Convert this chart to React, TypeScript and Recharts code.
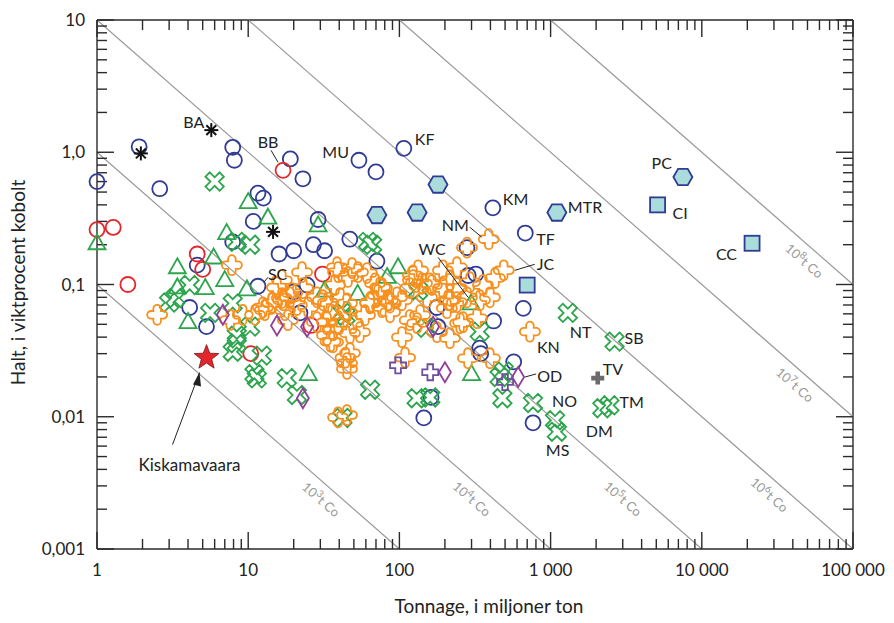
import React from "react";
import { ScatterChart, Scatter, XAxis, YAxis, ReferenceLine } from "recharts";

// Tonnage (Mt) vs Co grade (%)
const blueCircles = [
  [1.0, 0.6], [1.9, 1.1], [2.6, 0.53], [7.9, 1.09], [8.1, 0.87], [11.6, 0.49], [12.6, 0.45],
  [10.8, 0.3], [19, 0.89], [23, 0.63], [29, 0.31], [54, 0.87], [70, 0.71], [107, 1.07],
  [415, 0.38], [680, 0.245], [280, 0.19], [320, 0.12], [660, 0.066], [420, 0.053], [340, 0.033],
  [345, 0.03], [570, 0.026], [765, 0.009], [162, 0.014], [145, 0.0098], [11.6, 0.097], [7.9, 0.21],
  [16, 0.17], [20, 0.18], [27, 0.2], [32, 0.18], [47, 0.22], [71, 0.15], [24.5, 0.099], [20, 0.088],
  [22, 0.061], [177, 0.067], [180, 0.048], [285, 0.117], [4.6, 0.14], [4.1, 0.067], [5.3, 0.048],
];
const redCircles = [
  [17, 0.73], [1.0, 0.26], [1.28, 0.27], [1.6, 0.1], [4.6, 0.17], [5, 0.13], [31, 0.12], [26, 0.049], [10.4, 0.03],
];
const greenTriangles = [
  [1, 0.205], [10, 0.42], [13.5, 0.32], [29, 0.28], [7.2, 0.245], [3.4, 0.135], [3.4, 0.095], [5.2, 0.094],
  [5.9, 0.16], [7, 0.108], [9.8, 0.092], [4, 0.052], [98, 0.135], [83, 0.114], [32, 0.09], [53, 0.085],
  [298, 0.072], [300, 0.021], [25, 0.021],
];
const greenCrosses = [
  [6, 0.6], [62, 0.21], [66, 0.2], [10.3, 0.2], [8.4, 0.21], [4.1, 0.099], [3.0, 0.073], [3.3, 0.079],
  [7.9, 0.072], [5.6, 0.061], [10.3, 0.048], [8.4, 0.041], [7.9, 0.031], [8.4, 0.036], [12.3, 0.029],
  [11, 0.021], [11.4, 0.0195], [18, 0.0196], [21, 0.0146], [64, 0.016], [42, 0.0098], [130, 0.0138],
  [160, 0.014], [1300, 0.061], [2650, 0.037], [340, 0.044], [460, 0.02], [490, 0.022], [480, 0.0138],
  [765, 0.0127], [1070, 0.0094], [1100, 0.0077], [2200, 0.0116], [2450, 0.0122], [150, 0.047],
  [133, 0.09], [42, 0.061], [44, 0.058],
];
const orangeCrosses = [
  [2.5, 0.059], [7.8, 0.14], [7.6, 0.054], [9.2, 0.059], [12.5, 0.067], [17, 0.076], [22.7, 0.124],
  [23, 0.094], [19.5, 0.086], [16.7, 0.079], [14.4, 0.073], [12.9, 0.064], [11.1, 0.059], [17.5, 0.064],
  [21, 0.07], [24.9, 0.067], [28.5, 0.08], [33.7, 0.073], [39.3, 0.124], [37.5, 0.099], [40.5, 0.079],
  [45, 0.062], [35.8, 0.059], [39.3, 0.051], [49.3, 0.051], [54.8, 0.0436], [33.2, 0.0414], [36.4, 0.0366],
  [47.1, 0.0428], [59.2, 0.0586], [64, 0.0735], [76.7, 0.0674], [72, 0.083], [61, 0.122], [69, 0.102],
  [48.6, 0.133], [47.1, 0.0303], [45, 0.0254], [33.2, 0.0519], [28.5, 0.0519], [96.4, 0.08], [86.7, 0.0617],
  [109, 0.028], [76.7, 0.094], [86.7, 0.073], [123, 0.117], [117.5, 0.094], [141, 0.102], [164, 0.099],
  [194, 0.094], [216, 0.108], [240, 0.094], [293, 0.104], [357, 0.099], [429, 0.112], [397, 0.08],
  [341, 0.076], [240, 0.0735], [206, 0.0662], [137, 0.0586], [131, 0.051], [177, 0.0436], [216, 0.0393],
  [264, 0.0519], [326, 0.0556], [284, 0.0277], [397, 0.0277], [210, 0.076], [152, 0.08], [39.3, 0.0099],
  [45, 0.0103], [44, 0.028], [45, 0.023], [35, 0.037], [730, 0.044], [390, 0.22], [490, 0.128], [280, 0.19],
  [38.7, 0.135], [45.7, 0.114], [53.2, 0.124], [45, 0.072], [64, 0.072], [74.5, 0.0954], [84, 0.076],
  [104, 0.076], [123, 0.108], [133, 0.128], [159, 0.102], [194, 0.128], [240, 0.135], [216, 0.076],
  [280, 0.08], [252, 0.051], [117, 0.0537], [104, 0.04], [31.2, 0.076], [36.4, 0.045], [18.9, 0.08],
  [15.5, 0.095], [14.4, 0.072], [18.3, 0.0537], [16.7, 0.108],
];
const purpleDiamonds = [
  [6.8, 0.059], [15.5, 0.049], [23, 0.0138], [200, 0.0217], [610, 0.02], [167, 0.048], [24.5, 0.048],
];
const purplePlus = [[98, 0.0245], [160, 0.0217], [500, 0.0183]];
const hexagons = [[180, 0.57], [71, 0.335], [131, 0.35], [1100, 0.35], [7500, 0.65]];
const squares = [[700, 0.099], [5100, 0.4], [21500, 0.205]];
const asterisks = [[5.7, 1.47], [1.95, 0.98], [14.6, 0.25]];
const kiskamavaara = [[5.3, 0.028]];
const greyPlus = [[2050, 0.0196]];

const depositNames = [
  ["BA", 5.7, 1.47], ["BB", 17, 0.73], ["MU", 54, 0.87], ["KF", 107, 1.07], ["PC", 7500, 0.65],
  ["CI", 5100, 0.4], ["CC", 21500, 0.205], ["KM", 415, 0.38], ["MTR", 1100, 0.35], ["TF", 680, 0.245],
  ["NM", 390, 0.22], ["JC", 490, 0.128], ["WC", 298, 0.072], ["SC", 11.6, 0.097], ["NT", 1300, 0.061],
  ["SB", 2650, 0.037], ["KN", 730, 0.044], ["OD", 610, 0.02], ["TV", 2050, 0.0196], ["NO", 1070, 0.0094],
  ["MS", 1100, 0.0077], ["TM", 2450, 0.0122], ["DM", 2200, 0.0116], ["Kiskamavaara", 5.3, 0.028],
];

// contained cobalt lines, tonnes Co = 10^exp
const lineExps = [3, 4, 5, 6, 7, 8];

const xMajor = [1, 10, 100, 1000, 10000, 100000];
const xMajorLabels = ["1", "10", "100", "1 000", "10 000", "100 000"];
const yMajor = [0.001, 0.01, 0.1, 1, 10];
const yMajorLabels = ["0,001", "0,01", "0,1", "1,0", "10"];

// ---- layout / styling ----
const FONT = "Lato, 'Open Sans', sans-serif";
const BLUE = "#2f3b94";
const RED = "#e3262b";
const GREEN = "#2ca54c";
const ORANGE = "#f7901e";
const PURPLE = "#913f99";
const VIOLET = "#6d4e9f";
const CYAN = "#a9dcda";
const AXIS = "#2a2a2a";
const X_MIN = 1, X_MAX = 100000, Y_MIN = 0.001, Y_MAX = 10;

const minorsOf = (majors: number[]) => {
  const out: number[] = [];
  majors.slice(0, -1).forEach((m) => {
    for (let k = 2; k <= 9; k++) out.push(m * k);
  });
  return out;
};
const xLabel = (v: number) => xMajorLabels[xMajor.findIndex((m) => Math.abs(m - v) < 1e-9 * m)] ?? "";
const yLabel = (v: number) => yMajorLabels[yMajor.findIndex((m) => Math.abs(m - v) < 1e-9 * m)] ?? "";

// inward tick marks on all four sides of the frame
const tickMarks = [
  ...xMajor.map((x) => ({ x, y: Y_MIN, side: "b", major: true })),
  ...minorsOf(xMajor).map((x) => ({ x, y: Y_MIN, side: "b", major: false })),
  ...xMajor.map((x) => ({ x, y: Y_MAX, side: "t", major: true })),
  ...minorsOf(xMajor).map((x) => ({ x, y: Y_MAX, side: "t", major: false })),
  ...yMajor.map((y) => ({ x: X_MIN, y, side: "l", major: true })),
  ...minorsOf(yMajor).map((y) => ({ x: X_MIN, y, side: "l", major: false })),
  ...yMajor.map((y) => ({ x: X_MAX, y, side: "r", major: true })),
  ...minorsOf(yMajor).map((y) => ({ x: X_MAX, y, side: "r", major: false })),
];

const toPts = (arr: number[][]) => arr.map(([x, y]) => ({ x, y }));

const lineSegment = (exp: number) => {
  const p = Math.pow(10, exp) / 1e4; // tonnage * grade
  const y0 = Math.min(Y_MAX, p / X_MIN);
  const x1 = Math.min(X_MAX, p / Y_MIN);
  return [{ x: p / y0, y: y0 }, { x: x1, y: p / x1 }];
};
const LINE_LABEL_AT = [35, 347, 3470, 32300, 47600, 55000];
const lineLabels = lineExps.map((e, i) => {
  const p = Math.pow(10, e) / 1e4;
  return { x: LINE_LABEL_AT[i], y: p / LINE_LABEL_AT[i], exp: e };
});

const LABEL_POS: Record<string, any> = {
  BA: { dx: -7, dy: -2, a: "end" },
  BB: { dx: -15, dy: -22, a: "middle", lead: [-12, -20, -5, -8] },
  MU: { dx: -10, dy: -2, a: "end" },
  KF: { dx: 11, dy: -3, a: "start" },
  PC: { dx: -11, dy: -8, a: "end" },
  CI: { dx: 15, dy: 14, a: "start" },
  CC: { dx: -15, dy: 17, a: "end" },
  KM: { dx: 10, dy: -3, a: "start" },
  MTR: { dx: 11, dy: 0, a: "start" },
  TF: { dx: 11, dy: 12, a: "start" },
  NM: { dx: -20, dy: -8, a: "end", lead: [-19, -12, -7, -2] },
  JC: { dx: 33, dy: 0, a: "start", lead: [11, 0, 31, -6] },
  WC: { dx: -39, dy: -48, a: "middle", lead: [-33, -46, -3, -6] },
  SC: { dx: 10, dy: -6, a: "start", lead: [6, -4, 10, -9] },
  NT: { dx: 2, dy: 25, a: "start" },
  SB: { dx: 10, dy: 2, a: "start" },
  KN: { dx: 7, dy: 21, a: "start" },
  OD: { dx: 19, dy: 5, a: "start", lead: [7, 0, 18, -3] },
  TV: { dx: 5, dy: -3, a: "start" },
  NO: { dx: -3, dy: -13, a: "start" },
  MS: { dx: -11, dy: 24, a: "start" },
  TM: { dx: 10, dy: 3, a: "start" },
  DM: { dx: -3, dy: 29, a: "middle" },
  Kiskamavaara: { dx: -17, dy: 113, a: "middle", size: 17, arrow: [-34, 87, -7, 15] },
};

const plusPts = (a: number, b: number) =>
  `${-a},${-b} ${a},${-b} ${a},${-a} ${b},${-a} ${b},${a} ${a},${a} ${a},${b} ${-a},${b} ${-a},${a} ${-b},${a} ${-b},${-a} ${-a},${-a}`;

const roundPlus = (a: number, b: number) => {
  const e = b - a;
  return `M${-a},${-a} L${-a},${-e} A${a},${a} 0 0 1 ${a},${-e} L${a},${-a} L${e},${-a} A${a},${a} 0 0 1 ${e},${a} L${a},${a} L${a},${e} A${a},${a} 0 0 1 ${-a},${e} L${-a},${a} L${-e},${a} A${a},${a} 0 0 1 ${-e},${-a} Z`;
};

const starPts = () => {
  const pts: string[] = [];
  for (let i = 0; i < 10; i++) {
    const r = i % 2 === 0 ? 13 : 5.5;
    const ang = -Math.PI / 2 + (i * Math.PI) / 5;
    pts.push(`${(r * Math.cos(ang)).toFixed(2)},${(r * Math.sin(ang)).toFixed(2)}`);
  }
  return pts.join(" ");
};

const BlueCircle = ({ cx, cy }: any) => <circle cx={cx} cy={cy} r={7.5} fill="none" stroke={BLUE} strokeWidth={1.8} />;
const RedCircle = ({ cx, cy }: any) => <circle cx={cx} cy={cy} r={7.5} fill="none" stroke={RED} strokeWidth={1.8} />;
const Triangle = ({ cx, cy }: any) => (
  <polygon points={`${cx},${cy - 9} ${cx + 8.5},${cy + 6} ${cx - 8.5},${cy + 6}`} fill="none" stroke={GREEN} strokeWidth={1.8} />
);
const GreenX = ({ cx, cy }: any) => (
  <polygon points={plusPts(3, 10)} transform={`translate(${cx},${cy}) rotate(45)`} fill="none" stroke={GREEN} strokeWidth={1.8} />
);
const OrangeCross = ({ cx, cy }: any) => (
  <path d={roundPlus(3.8, 10)} transform={`translate(${cx},${cy})`} fill="none" stroke={ORANGE} strokeWidth={1.8} />
);
const Diamond = ({ cx, cy }: any) => (
  <polygon points={`${cx},${cy - 10} ${cx + 6},${cy} ${cx},${cy + 10} ${cx - 6},${cy}`} fill="none" stroke={PURPLE} strokeWidth={1.8} />
);
const VioletPlus = ({ cx, cy }: any) => (
  <polygon points={plusPts(2.8, 8)} transform={`translate(${cx},${cy})`} fill="none" stroke={VIOLET} strokeWidth={1.8} />
);
const Hexagon = ({ cx, cy }: any) => (
  <polygon
    points={`${cx - 9.5},${cy} ${cx - 4.8},${cy - 8.2} ${cx + 4.8},${cy - 8.2} ${cx + 9.5},${cy} ${cx + 4.8},${cy + 8.2} ${cx - 4.8},${cy + 8.2}`}
    fill={CYAN} stroke={BLUE} strokeWidth={1.8}
  />
);
const Square = ({ cx, cy }: any) => <rect x={cx - 7.5} y={cy - 7.5} width={15} height={15} fill={CYAN} stroke={BLUE} strokeWidth={1.8} />;
const Asterisk = ({ cx, cy }: any) => (
  <g stroke="#111" strokeWidth={2}>
    {[0, 45, 90, 135].map((a) => (
      <line key={a} x1={cx - 7} y1={cy} x2={cx + 7} y2={cy} transform={`rotate(${a},${cx},${cy})`} />
    ))}
  </g>
);
const Star = ({ cx, cy }: any) => (
  <polygon points={starPts()} transform={`translate(${cx},${cy})`} fill={RED} stroke="#6b1d1d" strokeWidth={0.8} />
);
const GreyPlus = ({ cx, cy }: any) => <polygon points={plusPts(2.3, 6.5)} transform={`translate(${cx},${cy})`} fill="#6b6b6b" />;

const TickMark = ({ cx, cy, payload }: any) => {
  const len = payload.major ? 17 : 10;
  const d = { b: [0, -len], t: [0, len], l: [len, 0], r: [-len, 0] }[payload.side as "b"];
  return <line x1={cx} y1={cy} x2={cx + d[0]} y2={cy + d[1]} stroke={AXIS} strokeWidth={1.4} />;
};

const NameLabel = ({ cx, cy, payload }: any) => {
  const p = LABEL_POS[payload.name];
  return (
    <g>
      {p.lead && <line x1={cx + p.lead[0]} y1={cy + p.lead[1]} x2={cx + p.lead[2]} y2={cy + p.lead[3]} stroke="#222" strokeWidth={1} />}
      {p.arrow && (
        <g>
          <line x1={cx + p.arrow[0]} y1={cy + p.arrow[1]} x2={cx + p.arrow[2]} y2={cy + p.arrow[3]} stroke="#222" strokeWidth={1} />
          <polygon
            points={`${cx + p.arrow[2]},${cy + p.arrow[3]} ${cx + p.arrow[2] - 6.5},${cy + p.arrow[3] + 12} ${cx + p.arrow[2] + 1.5},${cy + p.arrow[3] + 14}`}
            fill="#222"
          />
        </g>
      )}
      <text x={cx + p.dx} y={cy + p.dy} textAnchor={p.a} fontSize={p.size || 16} fill="#222" fontFamily={FONT}>
        {payload.name}
      </text>
    </g>
  );
};

const LineLabel = ({ cx, cy, payload }: any) => (
  <text transform={`translate(${cx},${cy}) rotate(41.2)`} y={19} textAnchor="middle" fontSize={13} fill="#9a9a9a" fontFamily={FONT}>
    10<tspan dy={-5} fontSize={10}>{payload.exp}</tspan>
    <tspan dy={5}>t Co</tspan>
  </text>
);

const XTitle = ({ viewBox }: any) => (
  <text x={viewBox.x + viewBox.width / 2 + 14} y={viewBox.y + 64} textAnchor="middle" fontSize={19} fill="#222" fontFamily={FONT}>
    Tonnage, i miljoner ton
  </text>
);
const YTitle = ({ viewBox }: any) => {
  const x = viewBox.x - 71;
  const y = viewBox.y + viewBox.height / 2 - 2;
  return (
    <text x={x} y={y} transform={`rotate(-90,${x},${y})`} textAnchor="middle" fontSize={19} fill="#222" fontFamily={FONT}>
      Halt, i viktprocent kobolt
    </text>
  );
};

const series: [number[][], any][] = [
  [blueCircles, BlueCircle],
  [redCircles, RedCircle],
  [greenTriangles, Triangle],
  [greenCrosses, GreenX],
  [orangeCrosses, OrangeCross],
  [purpleDiamonds, Diamond],
  [purplePlus, VioletPlus],
  [hexagons, Hexagon],
  [squares, Square],
  [asterisks, Asterisk],
  [kiskamavaara, Star],
  [greyPlus, GreyPlus],
];

const tickFont = { fontSize: 17, fill: "#222", fontFamily: FONT };
const axisStroke = { stroke: AXIS, strokeWidth: 1.4 };

export default function App() {
  return (
    <div style={{ position: "absolute", left: 0, top: 0, background: "#fff" }}>
      <ScatterChart width={894} height={623} margin={{ top: 20, right: 41, bottom: 73, left: 96 }}>
        <XAxis
          xAxisId="b" dataKey="x" type="number" scale="log" domain={[X_MIN, X_MAX]} ticks={xMajor}
          orientation="bottom" height={1} interval={0} tickSize={-17} tickMargin={32} tickLine={false}
          axisLine={axisStroke} tick={tickFont} tickFormatter={xLabel} label={<XTitle />}
        />
        <YAxis
          yAxisId="l" dataKey="y" type="number" scale="log" domain={[Y_MIN, Y_MAX]} ticks={yMajor}
          orientation="left" width={1} interval={0} tickSize={-17} tickMargin={29} tickLine={false}
          axisLine={axisStroke} tick={tickFont} tickFormatter={yLabel} label={<YTitle />}
        />
        {/* frame */}
        <ReferenceLine xAxisId="b" yAxisId="l" y={Y_MAX} stroke={AXIS} strokeWidth={1.4} ifOverflow="visible" />
        <ReferenceLine xAxisId="b" yAxisId="l" x={X_MAX} stroke={AXIS} strokeWidth={1.4} ifOverflow="visible" />
        {lineExps.map((e) => (
          <ReferenceLine key={e} xAxisId="b" yAxisId="l" segment={lineSegment(e)} stroke="#9a9a9a" strokeWidth={1.2} ifOverflow="visible" />
        ))}
        <Scatter xAxisId="b" yAxisId="l" data={tickMarks} shape={TickMark} isAnimationActive={false} />
        <Scatter xAxisId="b" yAxisId="l" data={lineLabels} shape={LineLabel} isAnimationActive={false} />
        {series.map(([pts, Shape], i) => (
          <Scatter key={i} xAxisId="b" yAxisId="l" data={toPts(pts)} shape={Shape} isAnimationActive={false} />
        ))}
        <Scatter
          xAxisId="b" yAxisId="l" data={depositNames.map(([name, x, y]) => ({ name, x, y }))}
          shape={NameLabel} isAnimationActive={false}
        />
      </ScatterChart>
    </div>
  );
}
